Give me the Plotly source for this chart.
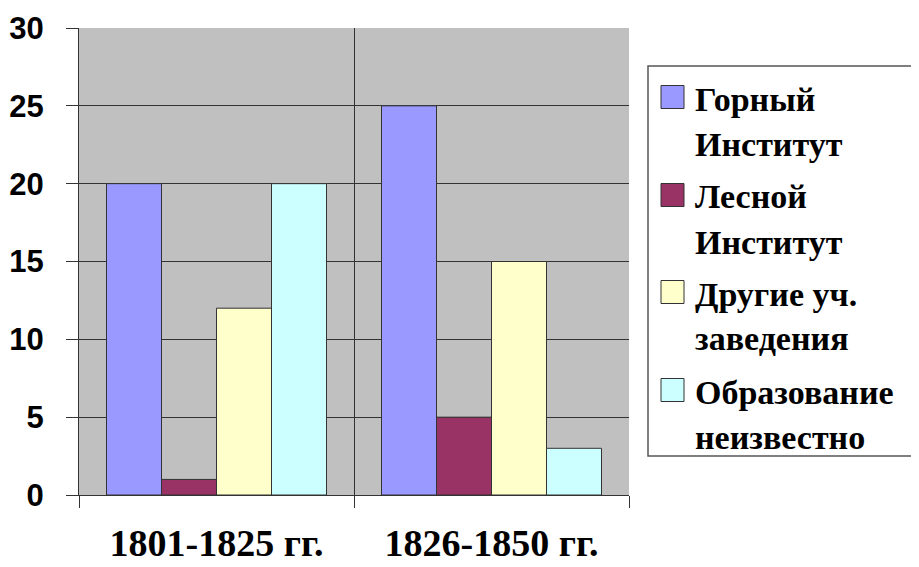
import plotly.graph_objects as go

categories = ["1801-1825 гг.", "1826-1850 гг."]
series_names = ["Горный Институт", "Лесной Институт", "Другие уч. заведения", "Образование неизвестно"]
legend_lines = [("Горный", "Институт"), ("Лесной", "Институт"), ("Другие уч.", "заведения"), ("Образование", "неизвестно")]
series_values = [
    [20, 25],
    [1, 5],
    [12, 15],
    [20, 3],
]
colors = ["#9999ff", "#993366", "#ffffcc", "#ccffff"]
y_ticks = [0, 5, 10, 15, 20, 25, 30]

OFF = 8  # page body margin
W, H = 919 - OFF, 567 - OFF
L, R, T, B = 79 - OFF, 290, 28 - OFF, 72
pw, ph = W - L - R, H - T - B
SERIF = "Liberation Serif, Times New Roman, serif"

def px(x):
    return (x - OFF - L) / pw

def py(y):
    return (H - B - (y - OFF)) / ph

fig = go.Figure()
for name, vals, c in zip(series_names, series_values, colors):
    fig.add_trace(go.Bar(x=categories, y=vals, name=name, marker=dict(color=c, line=dict(color="#333333", width=1)), showlegend=False))

shapes = []
annotations = []
shapes.append(dict(type="rect", xref="paper", yref="paper", x0=px(648), x1=px(925), y0=py(456), y1=py(66),
                   line=dict(color="#555555", width=1.5), fillcolor="white", layer="above"))
centers = [97, 195, 292, 390]
for (l1, l2), c, cy in zip(legend_lines, colors, centers):
    shapes.append(dict(type="rect", xref="paper", yref="paper", x0=px(661), x1=px(684), y0=py(cy + 11.5), y1=py(cy - 11.5),
                       line=dict(color="#333333", width=1), fillcolor=c, layer="above"))
    for txt, dy in ((l1, 2), (l2, 47)):
        annotations.append(dict(xref="paper", yref="paper", x=px(693), y=py(cy + dy), text="<b>%s</b>" % txt, showarrow=False,
                                xanchor="left", yanchor="middle",
                                font=dict(family=SERIF, size=34, color="black")))

fig.update_layout(
    width=W, height=H,
    margin=dict(l=L, r=R, t=T, b=B, autoexpand=False),
    paper_bgcolor="white",
    plot_bgcolor="#c0c0c0",
    barmode="group",
    bargap=0.2,
    bargroupgap=0,
    shapes=shapes,
    annotations=annotations,
    xaxis=dict(
        type="category", tickson="boundaries", ticks="outside", ticklen=12, tickcolor="#333333",
        showgrid=True, gridcolor="#333333", gridwidth=1, automargin=False,
        showline=True, linecolor="#333333", linewidth=1,
        tickvals=categories, ticktext=["<b>%s</b>" % c for c in categories],
        tickfont=dict(family=SERIF, size=38, color="black"),
        ticklabelstandoff=14,
    ),
    yaxis=dict(
        range=[0, 30], tickvals=y_ticks, ticks="outside", ticklen=12, tickcolor="#333333",
        showgrid=True, gridcolor="#333333", gridwidth=1, automargin=False,
        showline=True, linecolor="#333333", linewidth=1, zeroline=False,
        tickfont=dict(family="Liberation Sans", size=31, color="black", weight="bold"),
        ticklabelstandoff=16,
    ),
)

fig.write_html("out.html")
